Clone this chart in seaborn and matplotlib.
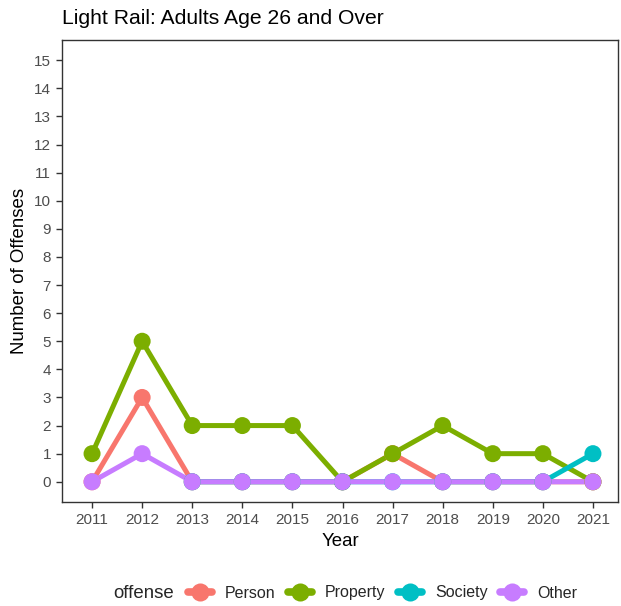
import matplotlib
matplotlib.use("Agg")
import matplotlib.pyplot as plt
import seaborn as sns
import pandas as pd
import numpy as np
from matplotlib.lines import Line2D

years = list(range(2011, 2022))
person = [0, 3, 0, 0, 0, 0, 1, 0, 0, 0, 0]
property_ = [1, 5, 2, 2, 2, 0, 1, 2, 1, 1, 0]
society = [np.nan, np.nan, 0, 0, 0, 0, 0, 0, 0, 0, 1]
other = [0, 1, 0, 0, 0, 0, 0, 0, 0, 0, 0]
categories = ["Person", "Property", "Society", "Other"]
colors = ["#F8766D", "#7CAE00", "#00BFC4", "#C77CFF"]
y_ticks = list(range(0, 16))

rows = []
for cat, vals in zip(categories, [person, property_, society, other]):
    for yr, v in zip(years, vals):
        if not (isinstance(v, float) and np.isnan(v)):
            rows.append({"Year": yr, "Count": v, "offense": cat})
df = pd.DataFrame(rows)

sns.set_theme(style="white")
plt.rcParams["font.family"] = ["Liberation Sans", "DejaVu Sans"]

fig = plt.figure(figsize=(6.21, 6.06), dpi=100)
ax = fig.add_axes([62 / 621, 1 - 502 / 606, (618 - 62) / 621, (502 - 40) / 606])

palette = dict(zip(categories, colors))
sns.lineplot(data=df, x="Year", y="Count", hue="offense", hue_order=categories,
             palette=palette, linewidth=3.6, ax=ax, legend=False, zorder=2)
sns.scatterplot(data=df, x="Year", y="Count", hue="offense", hue_order=categories,
                palette=palette, s=150, linewidth=0, ax=ax, legend=False, zorder=3)

ax.set_xlim(2010.4, 2021.5)
ax.set_ylim(-0.72, 15.72)
ax.set_xticks(years)
ax.set_yticks(y_ticks)
for s in ax.spines.values():
    s.set_color("#333333")
    s.set_linewidth(1.0)
ax.tick_params(axis="both", which="major", direction="out", length=4, width=1,
               color="#333333", labelcolor="#4D4D4D", labelsize=11, pad=4,
               bottom=True, left=True)
ax.set_xlabel("Year", fontsize=13.4, color="black", labelpad=4)
ax.set_ylabel("Number of Offenses", fontsize=13.4, color="black", labelpad=4)
fig.text(62 / 621, 1 - 18 / 606, "Light Rail: Adults Age 26 and Over", fontsize=15.2,
         ha="left", va="center", color="black")

handles = [Line2D([0], [0], color=c, linewidth=5.5, marker="o", markersize=13,
                  markeredgewidth=0) for c in colors]
fig.text(113 / 621, 1 - 593 / 606, "offense", fontsize=13.4, ha="left", va="center")
fig.legend(handles, categories, loc="center left", bbox_to_anchor=(188 / 621, 1 - 593 / 606),
           ncol=4, frameon=False, fontsize=11.5, handlelength=1.5, handletextpad=0.82,
           columnspacing=0.78, borderpad=0, borderaxespad=0)

fig.savefig("out.png", dpi=100)
